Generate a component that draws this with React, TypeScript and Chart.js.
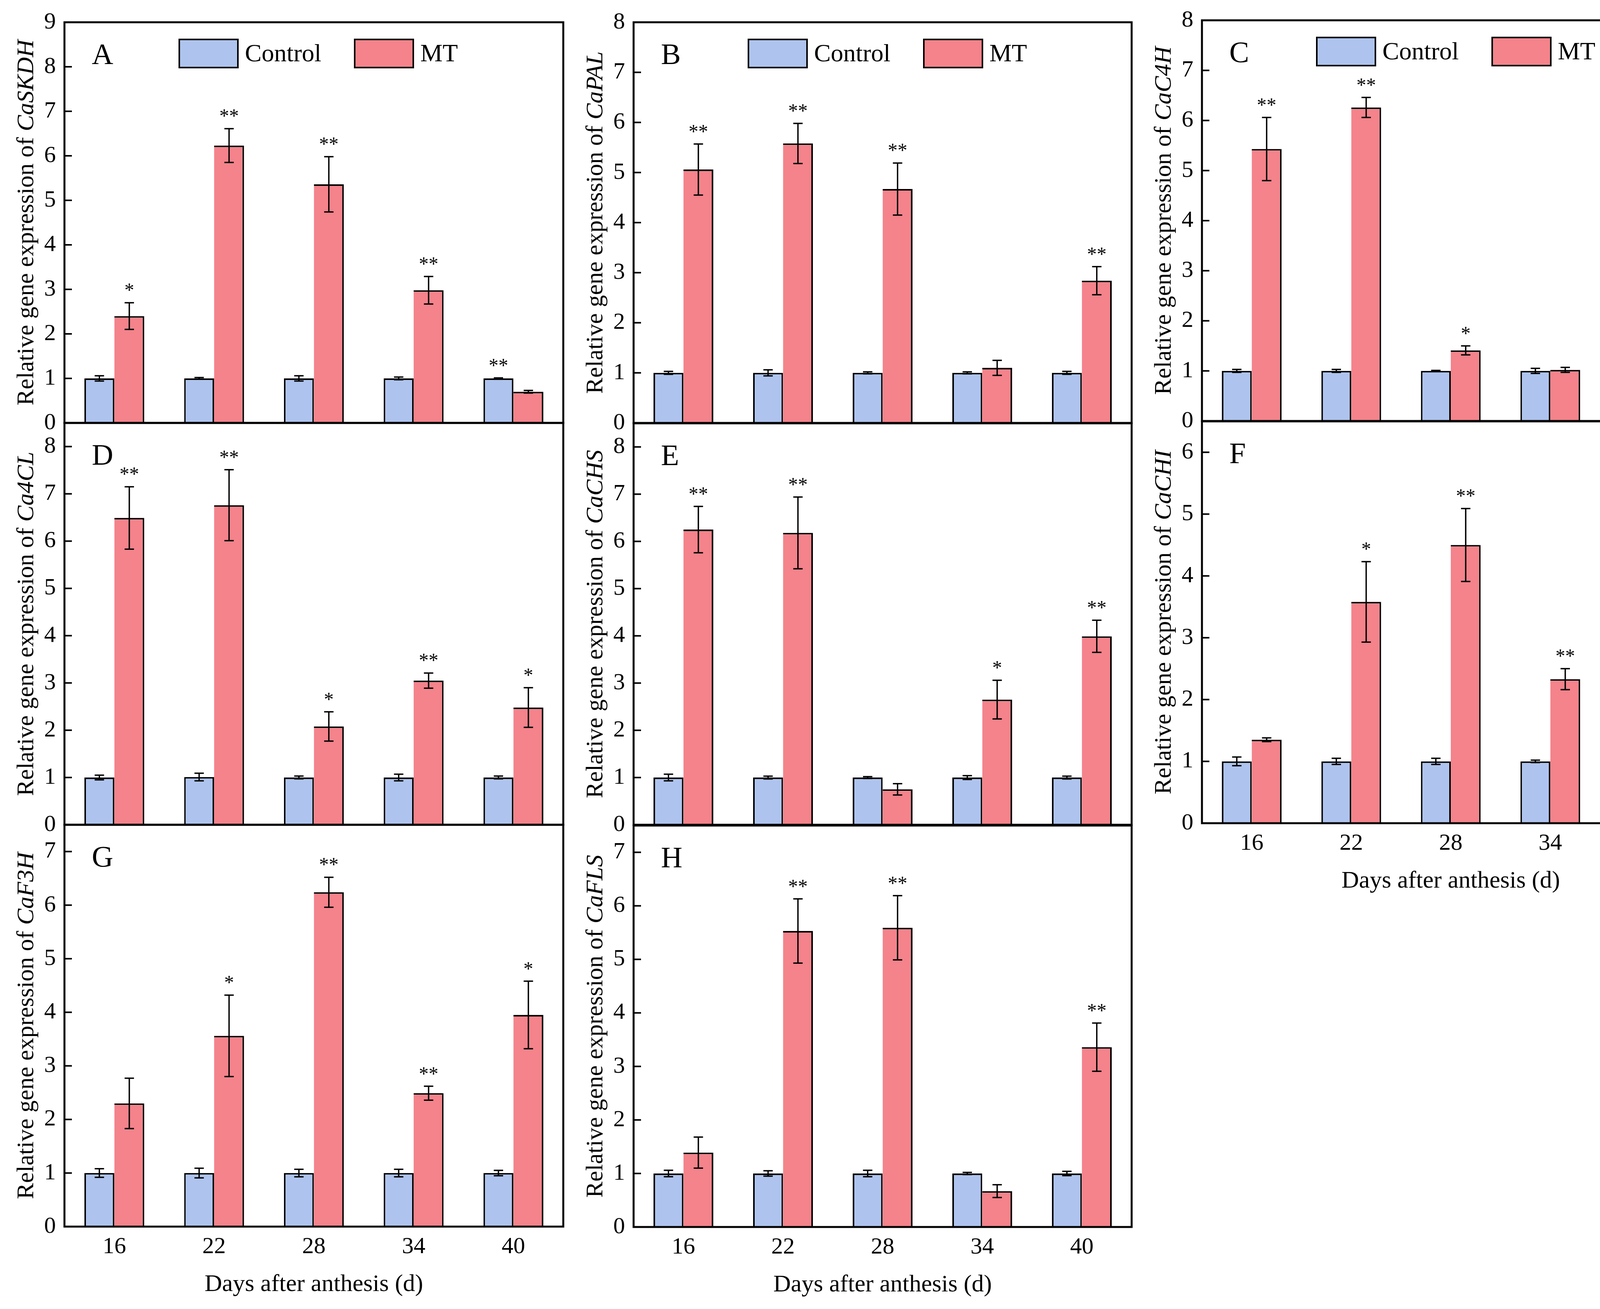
import React, { useEffect, useRef } from 'react';
import { Chart, registerables } from 'chart.js';

Chart.register(...registerables);

// ---------- data ----------
const days = ['16', '22', '28', '34', '40'];
const groupNames = ['Control', 'MT'];
const xTitle = 'Days after anthesis (d)';
const yTitlePrefix = 'Relative gene expression of ';

// A  CaSKDH
const ctrlA = [1.0, 1.0, 1.0, 1.0, 1.0];
const errCtrlA = [0.06, 0.02, 0.06, 0.03, 0.01];
const mtA = [2.4, 6.23, 5.36, 2.98, 0.7];
const errMtA = [0.3, 0.38, 0.62, 0.31, 0.03];
const sigA = ['*', '**', '**', '**', '**'];

// B  CaPAL
const ctrlB = [1.0, 1.0, 1.0, 1.0, 1.0];
const errCtrlB = [0.03, 0.06, 0.02, 0.02, 0.03];
const mtB = [5.06, 5.58, 4.67, 1.1, 2.84];
const errMtB = [0.51, 0.4, 0.52, 0.15, 0.28];
const sigB = ['**', '**', '**', '', '**'];

// C  CaC4H
const ctrlC = [1.0, 1.0, 1.0, 1.0, 1.0];
const errCtrlC = [0.03, 0.03, 0.01, 0.05, 0.03];
const mtC = [5.43, 6.26, 1.41, 1.02, 2.25];
const errMtC = [0.63, 0.2, 0.09, 0.05, 0.32];
const sigC = ['**', '**', '*', '', '*'];

// D  Ca4CL
const ctrlD = [1.0, 1.01, 1.0, 1.0, 1.0];
const errCtrlD = [0.05, 0.08, 0.03, 0.07, 0.03];
const mtD = [6.49, 6.76, 2.08, 3.05, 2.48];
const errMtD = [0.66, 0.75, 0.31, 0.16, 0.42];
const sigD = ['**', '**', '*', '**', '*'];

// E  CaCHS
const ctrlE = [1.0, 1.0, 1.0, 1.0, 1.0];
const errCtrlE = [0.07, 0.03, 0.02, 0.04, 0.03];
const mtE = [6.25, 6.18, 0.75, 2.65, 3.99];
const errMtE = [0.49, 0.76, 0.12, 0.41, 0.34];
const sigE = ['**', '**', '', '*', '**'];

// F  CaCHI
const ctrlF = [1.0, 1.0, 1.0, 1.0, 1.0];
const errCtrlF = [0.07, 0.05, 0.05, 0.02, 0.02];
const mtF = [1.35, 3.58, 4.5, 2.33, 2.87];
const errMtF = [0.03, 0.65, 0.59, 0.17, 0.32];
const sigF = ['', '*', '**', '**', '**'];

// G  CaF3H
const ctrlG = [1.0, 1.0, 1.0, 1.0, 1.0];
const errCtrlG = [0.08, 0.09, 0.07, 0.07, 0.05];
const mtG = [2.3, 3.56, 6.24, 2.49, 3.95];
const errMtG = [0.47, 0.76, 0.28, 0.13, 0.63];
const sigG = ['', '*', '**', '**', '*'];

// H  CaFLS
const ctrlH = [1.0, 1.0, 1.0, 1.0, 1.0];
const errCtrlH = [0.06, 0.05, 0.06, 0.02, 0.04];
const mtH = [1.39, 5.53, 5.59, 0.67, 3.36];
const errMtH = [0.29, 0.6, 0.6, 0.12, 0.45];
const sigH = ['', '**', '**', '', '**'];

// ---------- styling / layout ----------
const FONT = '"Liberation Serif", "Times New Roman", serif';
const CTRL_COLOR = '#aec4ee';
const MT_COLOR = '#f4838b';

const Y_AXIS_W = 150;
const PAD_TOP = 40;
const PAD_RIGHT = 12;
const PAD_BOTTOM = 40;
const X_AXIS_H = 200;

const cols = [
  { left: 165, w: 1277 },
  { left: 1622, w: 1275 },
  { left: 3077, w: 1274 },
];

type PanelDef = {
  letter: string;
  gene: string;
  ctrl: number[];
  errCtrl: number[];
  mt: number[];
  errMt: number[];
  sig: string[];
  yMax: number;
  col: number;
  top: number;
  h: number;
  legend: boolean;
  bottom: boolean;
};

const panels: PanelDef[] = [
  { letter: 'A', gene: 'CaSKDH', ctrl: ctrlA, errCtrl: errCtrlA, mt: mtA, errMt: errMtA, sig: sigA, yMax: 9, col: 0, top: 57, h: 1026, legend: true, bottom: false },
  { letter: 'B', gene: 'CaPAL', ctrl: ctrlB, errCtrl: errCtrlB, mt: mtB, errMt: errMtB, sig: sigB, yMax: 8, col: 1, top: 57, h: 1026, legend: true, bottom: false },
  { letter: 'C', gene: 'CaC4H', ctrl: ctrlC, errCtrl: errCtrlC, mt: mtC, errMt: errMtC, sig: sigC, yMax: 8, col: 2, top: 52, h: 1026, legend: true, bottom: false },
  { letter: 'D', gene: 'Ca4CL', ctrl: ctrlD, errCtrl: errCtrlD, mt: mtD, errMt: errMtD, sig: sigD, yMax: 8.5, col: 0, top: 1083, h: 1029, legend: false, bottom: false },
  { letter: 'E', gene: 'CaCHS', ctrl: ctrlE, errCtrl: errCtrlE, mt: mtE, errMt: errMtE, sig: sigE, yMax: 8.5, col: 1, top: 1084, h: 1028, legend: false, bottom: false },
  { letter: 'F', gene: 'CaCHI', ctrl: ctrlF, errCtrl: errCtrlF, mt: mtF, errMt: errMtF, sig: sigF, yMax: 6.5, col: 2, top: 1079, h: 1029, legend: false, bottom: true },
  { letter: 'G', gene: 'CaF3H', ctrl: ctrlG, errCtrl: errCtrlG, mt: mtG, errMt: errMtG, sig: sigG, yMax: 7.5, col: 0, top: 2112, h: 1029, legend: false, bottom: true },
  { letter: 'H', gene: 'CaFLS', ctrl: ctrlH, errCtrl: errCtrlH, mt: mtH, errMt: errMtH, sig: sigH, yMax: 7.5, col: 1, top: 2114, h: 1028, legend: false, bottom: true },
];

function makeDecor(p: PanelDef) {
  return {
    id: 'decor' + p.letter,
    afterDatasetsDraw(chart: any) {
      const { ctx, chartArea: ca, scales } = chart;
      const y = scales.y;
      ctx.save();
      // error bars
      ctx.strokeStyle = '#000';
      ctx.lineWidth = 3.5;
      const tops: { x: number; v: number }[][] = [];
      chart.data.datasets.forEach((ds: any, di: number) => {
        const meta = chart.getDatasetMeta(di);
        tops[di] = [];
        meta.data.forEach((bar: any, j: number) => {
          const v = ds.data[j];
          const e = ds.errors[j];
          const yt = y.getPixelForValue(v + e);
          const yb = y.getPixelForValue(v - e);
          const x = bar.x;
          tops[di][j] = { x, v: v + e };
          ctx.beginPath();
          ctx.moveTo(x, yt);
          ctx.lineTo(x, yb);
          ctx.moveTo(x - 12, yt);
          ctx.lineTo(x + 12, yt);
          ctx.moveTo(x - 12, yb);
          ctx.lineTo(x + 12, yb);
          ctx.stroke();
        });
      });
      // significance marks
      ctx.fillStyle = '#000';
      ctx.font = `50px ${FONT}`;
      ctx.textAlign = 'center';
      ctx.textBaseline = 'alphabetic';
      p.sig.forEach((s, j) => {
        if (!s) return;
        const a = tops[0][j];
        const b = tops[1][j];
        const t = b.v >= a.v ? b : a;
        ctx.fillText(s, t.x, y.getPixelForValue(t.v) - 16);
      });
      // frame
      ctx.lineWidth = 5;
      ctx.strokeRect(ca.left, ca.top, ca.right - ca.left, ca.bottom - ca.top);
      // inward y ticks
      ctx.lineWidth = 4;
      y.ticks.forEach((t: any) => {
        const py = y.getPixelForValue(t.value);
        ctx.beginPath();
        ctx.moveTo(ca.left, py);
        ctx.lineTo(ca.left + 19, py);
        ctx.stroke();
      });
      // panel letter
      ctx.font = `76px ${FONT}`;
      ctx.textAlign = 'left';
      ctx.textBaseline = 'alphabetic';
      ctx.fillText(p.letter, ca.left + 70, ca.top + 107);
      // y title (mixed roman / italic)
      ctx.save();
      ctx.translate(ca.left - 96, (ca.top + ca.bottom) / 2);
      ctx.rotate(-Math.PI / 2);
      const f1 = `62px ${FONT}`;
      const f2 = `italic 62px ${FONT}`;
      ctx.font = f1;
      const w1 = ctx.measureText(yTitlePrefix).width;
      ctx.font = f2;
      const w2 = ctx.measureText(p.gene).width;
      const sx = -(w1 + w2) / 2;
      ctx.textBaseline = 'middle';
      ctx.textAlign = 'left';
      ctx.font = f1;
      ctx.fillText(yTitlePrefix, sx, 0);
      ctx.font = f2;
      ctx.fillText(p.gene, sx + w1, 0);
      ctx.restore();
      // legend
      if (p.legend) {
        const offs = [294, 743];
        chart.data.datasets.forEach((ds: any, di: number) => {
          const bx = ca.left + offs[di];
          const by = ca.top + 44;
          ctx.fillStyle = ds.backgroundColor;
          ctx.fillRect(bx, by, 150, 72);
          ctx.lineWidth = 4;
          ctx.strokeStyle = '#000';
          ctx.strokeRect(bx, by, 150, 72);
          ctx.fillStyle = '#000';
          ctx.font = `64px ${FONT}`;
          ctx.textAlign = 'left';
          ctx.textBaseline = 'alphabetic';
          ctx.fillText(ds.label, bx + 168, ca.top + 100);
        });
      }
      ctx.restore();
    },
  };
}

function Panel({ p }: { p: PanelDef }) {
  const ref = useRef<HTMLCanvasElement | null>(null);
  const c = cols[p.col];
  const left = c.left - Y_AXIS_W;
  const top = p.top - PAD_TOP;
  const width = Y_AXIS_W + c.w + PAD_RIGHT;
  const height = PAD_TOP + p.h + (p.bottom ? X_AXIS_H : PAD_BOTTOM);

  useEffect(() => {
    if (!ref.current) return;
    const basePad = { top: PAD_TOP, right: PAD_RIGHT, bottom: p.bottom ? 0 : PAD_BOTTOM, left: 0 };
    const chart = new Chart(ref.current, {
      type: 'bar',
      data: {
        labels: days,
        datasets: [
          {
            label: groupNames[0],
            data: p.ctrl,
            errors: p.errCtrl,
            backgroundColor: CTRL_COLOR,
            borderColor: '#000',
            borderWidth: { top: 4, right: 4, bottom: 0, left: 4 },
            borderSkipped: false,
            categoryPercentage: 0.6,
            barPercentage: 1.0,
          } as any,
          {
            label: groupNames[1],
            data: p.mt,
            errors: p.errMt,
            backgroundColor: MT_COLOR,
            borderColor: '#000',
            borderWidth: { top: 4, right: 4, bottom: 0, left: 0 },
            borderSkipped: false,
            categoryPercentage: 0.6,
            barPercentage: 1.0,
          } as any,
        ],
      },
      options: {
        responsive: false,
        animation: false,
        devicePixelRatio: 1,
        layout: { padding: { ...basePad } },
        plugins: {
          legend: { display: false },
          tooltip: { enabled: false },
        },
        scales: {
          x: {
            display: p.bottom,
            grid: { display: false, drawTicks: false },
            border: { display: false },
            ticks: {
              color: '#000',
              font: { family: FONT, size: 60 },
              padding: 16,
            },
            title: {
              display: true,
              text: xTitle,
              color: '#000',
              font: { family: FONT, size: 62 },
              padding: { top: 0, bottom: 14 },
            },
            afterFit: (s: any) => {
              if (p.bottom) s.height = X_AXIS_H;
              s.paddingLeft = 0;
              s.paddingRight = 0;
            },
          },
          y: {
            min: 0,
            max: p.yMax,
            grid: { display: false, drawTicks: false },
            border: { display: false },
            ticks: {
              stepSize: 1,
              includeBounds: false,
              color: '#000',
              font: { family: FONT, size: 60 },
              padding: 22,
            },
            afterFit: (s: any) => {
              s.width = Y_AXIS_W;
              s.paddingTop = 0;
              s.paddingBottom = 0;
            },
          },
        },
      } as any,
      plugins: [makeDecor(p)],
    });
    // make sure the plot area sits exactly where the panel frame belongs
    const ca = chart.chartArea;
    const dTop = ca.top - PAD_TOP;
    const dBottom = PAD_TOP + p.h - ca.bottom;
    if (Math.abs(dTop) > 0.5 || Math.abs(dBottom) > 0.5) {
      (chart.options as any).layout.padding = {
        top: Math.max(0, basePad.top - dTop),
        right: basePad.right,
        bottom: Math.max(0, basePad.bottom - dBottom),
        left: 0,
      };
      chart.update();
    }
    return () => chart.destroy();
  }, []);

  return (
    <div style={{ position: 'absolute', left, top, width, height }}>
      <canvas ref={ref} width={width} height={height} style={{ display: 'block', width, height }} />
    </div>
  );
}

export default function App() {
  return (
    <div
      style={{
        position: 'absolute',
        left: 0,
        top: 0,
        width: 4382,
        height: 3352,
        background: '#fff',
        overflow: 'hidden',
      }}
    >
      {panels.map((p) => (
        <Panel key={p.letter} p={p} />
      ))}
    </div>
  );
}
